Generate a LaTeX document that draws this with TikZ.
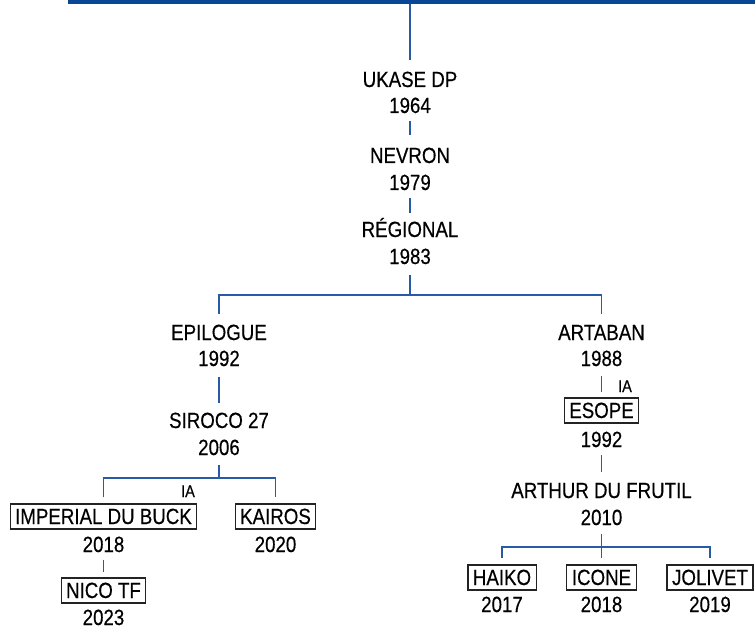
\documentclass[tikz,border=0pt]{standalone}
\usepackage{fontspec}
\setmainfont{Liberation Sans}[FakeStretch=0.85,FakeBold=0.4]
\definecolor{barblue}{RGB}{10,70,150}
\definecolor{linkblue}{RGB}{40,90,165}
\definecolor{boxgray}{RGB}{35,35,35}
\begin{document}
\begin{tikzpicture}[x=1pt,y=-1pt,
  txt/.style={font=\fontsize{22}{26}\selectfont, inner sep=0pt, text height=16pt, text depth=0pt, anchor=base, text=black},
  boxed/.style={font=\fontsize{22}{26}\selectfont, draw=boxgray, line width=1.2pt, inner xsep=5pt, inner ysep=0pt, minimum height=25pt, text height=15pt, text depth=0pt, anchor=center, text=black},
  small/.style={font=\fontsize{17}{19}\selectfont, inner sep=0pt, anchor=base, text=black},
  link/.style={draw=linkblue, line width=1.4pt},
]
\useasboundingbox (0,0) rectangle (755,631);
% top bar
\fill[barblue] (68,0) rectangle (755,4.5);
\coordinate (top) at (410,4);

% trunk
\node[txt] (n1) at (410,87) {UKASE DP};
\node[txt] (y1) at (410,113) {1964};
\node[txt] (n2) at (410,163) {NEVRON};
\node[txt] (y2) at (410,190) {1979};
\node[txt] (n3) at (410,237) {RÉGIONAL};
\node[txt] (y3) at (410,264) {1983};
\coordinate (j1) at (410,295);

\draw[link] (top) -- ([yshift=11pt]n1.north);
\draw[link] ([yshift=-8pt]y1.base) -- ([yshift=12pt]n2.north);
\draw[link] ([yshift=-8pt]y2.base) -- ([yshift=8pt]n3.north);
\draw[link] ([yshift=-11pt]y3.base) -- (j1);

% left branch
\node[txt] (nEp) at (219,340) {EPILOGUE};
\node[txt] (yEp) at (219,366) {1992};
\node[txt] (nSi) at (219,428) {SIROCO 27};
\node[txt] (ySi) at (219,455) {2006};
% right branch
\node[txt] (nAr) at (601.5,340) {ARTABAN};
\node[txt] (yAr) at (601.5,366) {1988};

\draw[link] ([yshift=10pt]nEp.north) |- (j1) -| ([yshift=10pt]nAr.north);
\draw[link] ([yshift=-11pt]yEp.base) -- ([yshift=9pt]nSi.north);

% Siroco children
\coordinate (j2) at (219,478);
\node[boxed] (nIm) at (103.5,516.5) {IMPERIAL DU BUCK};
\node[txt] (yIm) at (103.5,552) {2018};
\node[boxed] (nKa) at (275.5,516.5) {KAIROS};
\node[txt] (yKa) at (275.5,552) {2020};
\node[small] (ia1) at (188,497) {IA};
\draw[link] ([yshift=-10pt]ySi.base) -- (j2);
\draw[link] ([yshift=6pt]nIm.north) |- (j2) -| ([yshift=6pt]nKa.north);

\node[boxed] (nNi) at (103.5,590.5) {NICO TF};
\node[txt] (yNi) at (103.5,625) {2023};
\draw[link] ([yshift=-8pt]yIm.base) -- ([yshift=5pt]nNi.north);

% Artaban line
\node[boxed] (nEs) at (601.5,410.5) {ESOPE};
\node[txt] (yEs) at (601.5,447) {1992};
\node[small] (ia2) at (625,392) {IA};
\draw[link] ([yshift=-10pt]yAr.base) -- ([yshift=5pt]nEs.north);

\node[txt] (nAf) at (601.5,498) {ARTHUR DU FRUTIL};
\node[txt] (yAf) at (601.5,525) {2010};
\draw[link] ([yshift=-8pt]yEs.base) -- ([yshift=10pt]nAf.north);

\coordinate (j3) at (601.5,547);
\node[boxed] (nHa) at (502,577.5) {HAIKO};
\node[txt] (yHa) at (502,612) {2017};
\node[boxed] (nIc) at (601.5,577.5) {ICONE};
\node[txt] (yIc) at (601.5,612) {2018};
\node[boxed] (nJo) at (710,577.5) {JOLIVET};
\node[txt] (yJo) at (710,612) {2019};
\draw[link] ([yshift=-9pt]yAf.base) -- ([yshift=6pt]nIc.north);
\draw[link] ([yshift=6pt]nHa.north) |- (j3) -| ([yshift=6pt]nJo.north);
\end{tikzpicture}
\end{document}
